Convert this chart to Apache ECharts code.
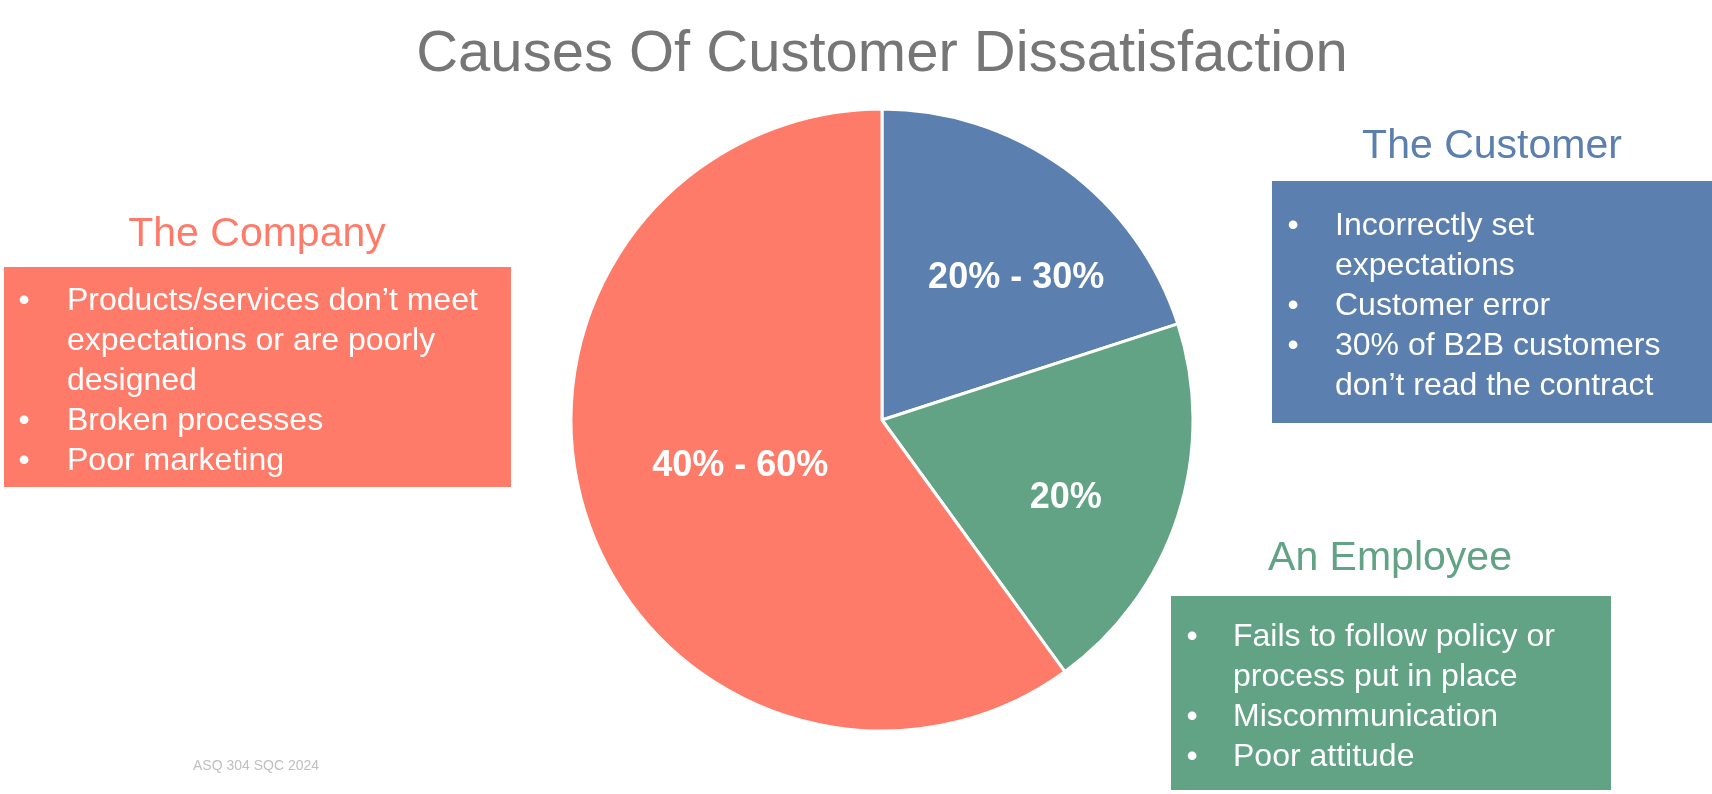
<!DOCTYPE html>
<html lang="en">
<head>
    <title>Causes Of Customer Dissatisfaction</title>
    <meta charset="utf-8" />
    <script src="https://cdn.jsdelivr.net/npm/echarts@6/dist/echarts.min.js"></script>
    <style>
        body {
            margin: 0;
            background-color: #ffffff;
        }
        #main {
            width: 1712px;
            height: 794px;
        }
    </style>
</head>
<body>
<div id="main"></div>
<script>
    // chart data
    let titleText = 'Causes Of Customer Dissatisfaction'
    let categories = ['The Customer', 'An Employee', 'The Company']
    let shares = [20, 20, 60]
    let shareLabels = ['20% - 30%', '20%', '40% - 60%']
    let customerPoints = [
        ['Incorrectly set', 'expectations'],
        ['Customer error'],
        ['30% of B2B customers', 'don\u2019t read the contract']
    ]
    let employeePoints = [
        ['Fails to follow policy or', 'process put in place'],
        ['Miscommunication'],
        ['Poor attitude']
    ]
    let companyPoints = [
        ['Products/services don\u2019t meet', 'expectations or are poorly', 'designed'],
        ['Broken processes'],
        ['Poor marketing']
    ]
    let footnote = 'ASQ 304 SQC 2024'

    // styles
    let colors = ['#5B7FAE', '#62A385', '#FF7B69']
    let fontFamily = '"Liberation Sans", Arial, Helvetica, sans-serif'
    let labelOffsets = [[41, -14], [33, 29], [9, -3]]
    let lineGap = 40

    let callouts = [
        {points: customerPoints, idx: 0, headX: 1492, headY: 147, box: [1272, 181, 440, 242], bulletX: 1293, textX: 1335, firstY: 226},
        {points: employeePoints, idx: 1, headX: 1390, headY: 559, box: [1171, 596, 440, 194], bulletX: 1192, textX: 1233, firstY: 637},
        {points: companyPoints, idx: 2, headX: 257, headY: 235, box: [4, 267, 507, 220], bulletX: 24, textX: 67, firstY: 301}
    ]

    function textEl(text, x, y, size, color, align, weight) {
        return {
            type: 'text',
            silent: true,
            style: {
                text: text,
                x: x,
                y: y,
                fill: color,
                font: (weight || 'normal') + ' ' + size + 'px ' + fontFamily,
                align: align,
                textAlign: align,
                verticalAlign: 'middle',
                textVerticalAlign: 'middle'
            }
        }
    }

    let graphics = []
    graphics.push(textEl(titleText, 882, 55, 58, '#767676', 'center'))
    callouts.forEach(function (c) {
        let color = colors[c.idx]
        graphics.push(textEl(categories[c.idx], c.headX, c.headY, 41, color, 'center'))
        graphics.push({
            type: 'rect',
            silent: true,
            shape: {x: c.box[0], y: c.box[1], width: c.box[2], height: c.box[3]},
            style: {fill: color}
        })
        let line = 0
        c.points.forEach(function (p) {
            graphics.push(textEl('\u2022', c.bulletX, c.firstY + line * lineGap, 32, '#ffffff', 'center'))
            p.forEach(function (t) {
                graphics.push(textEl(t, c.textX, c.firstY + line * lineGap, 32, '#ffffff', 'left'))
                line++
            })
        })
    })
    graphics.push(textEl(footnote, 193, 766, 14, '#BFBFBF', 'left'))

    let pieData = shares.map(function (v, i) {
        return {
            name: categories[i],
            value: v,
            itemStyle: {color: colors[i]},
            label: {offset: labelOffsets[i]}
        }
    })

    let chart = echarts.init(document.getElementById('main'))
    chart.setOption({
        animation: false,
        textStyle: {fontFamily: fontFamily},
        series: [
            {
                type: 'pie',
                center: [882, 420],
                radius: 311,
                startAngle: 90,
                clockwise: true,
                silent: true,
                itemStyle: {
                    borderColor: '#ffffff',
                    borderWidth: 3
                },
                label: {
                    show: true,
                    position: 'inside',
                    color: '#ffffff',
                    fontSize: 36,
                    fontWeight: 'bold',
                    fontFamily: fontFamily,
                    formatter: function (p) {
                        return shareLabels[p.dataIndex]
                    }
                },
                labelLine: {show: false},
                data: pieData
            }
        ],
        graphic: graphics
    })
</script>
</body>
</html>
